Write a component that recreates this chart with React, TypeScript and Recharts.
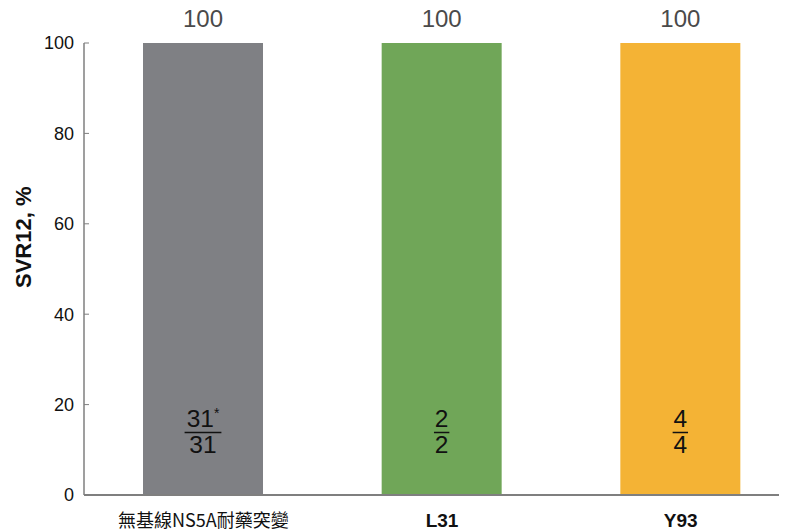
import { Bar, BarChart, Cell, LabelList, XAxis, YAxis } from "recharts";

const categories = ["無基線NS5A耐藥突變", "L31", "Y93"];
const svr12 = [100, 100, 100];
const responders = ["31", "2", "4"];
const totals = ["31", "2", "4"];
const footnotes = ["*", "", ""];
const barColors = ["#7f8084", "#70a658", "#f4b335"];
const yTicks = [0, 20, 40, 60, 80, 100];

const chartData = categories.map((name, i) => ({
  name,
  svr: svr12[i],
  num: responders[i],
  den: totals[i],
  note: footnotes[i],
}));

const FONT = "'Liberation Sans', Arial, sans-serif";

function CategoryTick(props: any) {
  const { x, y, payload, index } = props;
  const cjk = index === 0;
  return (
    <text
      x={x}
      y={y + 24}
      textAnchor="middle"
      fontFamily={cjk ? "'Noto Sans CJK TC', sans-serif" : FONT}
      fontSize={cjk ? 18 : 19}
      fontWeight={cjk ? 400 : 700}
      fill="#111"
    >
      {payload.value}
    </text>
  );
}

// numerator over denominator, drawn low inside each bar
function Fraction(props: any) {
  const { x, width, index } = props;
  const row = chartData[index];
  const cx = x + width / 2;
  const numW = row.num.length * 13.4 + (row.note ? 8 : 0);
  return (
    <g fontFamily={FONT} fontSize={24.5} fill="#111">
      <text x={cx} y={427} textAnchor="middle">
        {row.num}
        {row.note && (
          <tspan fontSize={14} dy={-9}>
            {row.note}
          </tspan>
        )}
      </text>
      <line x1={cx - numW / 2 - 1} x2={cx + numW / 2 + 1} y1={432.5} y2={432.5} stroke="#111" strokeWidth={1.5} />
      <text x={cx} y={452.5} textAnchor="middle">
        {row.den}
      </text>
    </g>
  );
}

export default function App() {
  return (
    <div style={{ width: 787, height: 532, overflow: "hidden", margin: "-8px 0 0 -8px" }}>
      <BarChart
        width={800}
        height={532}
        data={chartData}
        margin={{ top: 43, right: 0, bottom: 0, left: 34 }}
      >
        <XAxis
          dataKey="name"
          axisLine={{ stroke: "#7f7f7f", strokeWidth: 2 }}
          tickLine={false}
          height={37}
          tick={<CategoryTick />}
        />
        <YAxis
          domain={[0, 100]}
          ticks={yTicks}
          width={50}
          axisLine={{ stroke: "#7f7f7f", strokeWidth: 1.5 }}
          tickLine={{ stroke: "#7f7f7f" }}
          tickSize={-5}
          tickMargin={15}
          tick={{ fill: "#111", fontSize: 18, fontFamily: FONT }}
          label={{
            value: "SVR12, %",
            angle: -90,
            position: "insideLeft",
            dx: -16,
            dy: 19,
            style: { fill: "#111", fontSize: 22, fontWeight: 700, fontFamily: FONT },
          }}
        />
        <Bar dataKey="svr" barSize={120} isAnimationActive={false}>
          {chartData.map((d, i) => (
            <Cell key={d.name} fill={barColors[i]} />
          ))}
          <LabelList
            dataKey="svr"
            position="top"
            offset={16}
            style={{ fill: "#4a4a4a", fontSize: 24, fontFamily: FONT }}
          />
          <LabelList dataKey="num" content={<Fraction />} />
        </Bar>
      </BarChart>
    </div>
  );
}
